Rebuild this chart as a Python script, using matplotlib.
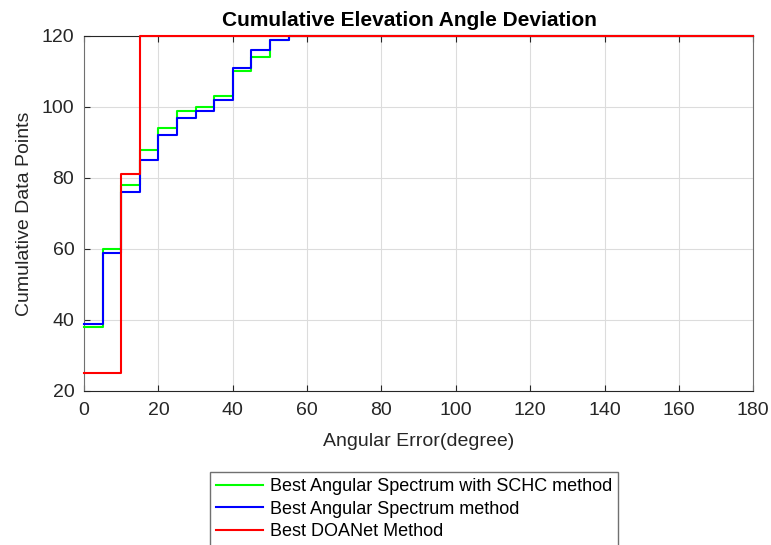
import matplotlib.pyplot as plt

plt.rcParams['font.family'] = ['Liberation Sans', 'DejaVu Sans']

# step edges (degree) and cumulative counts for each method
edges = [0, 5, 10, 15, 20, 25, 30, 35, 40, 45, 50, 55, 180]
schc = [38, 60, 78, 88, 94, 99, 100, 103, 110, 114, 119, 120, 120]
spectrum = [39, 59, 76, 85, 92, 97, 99, 102, 111, 116, 119, 120, 120]
doanet = [25, 25, 81, 120, 120, 120, 120, 120, 120, 120, 120, 120, 120]

labels = ['Best Angular Spectrum with SCHC method',
          'Best Angular Spectrum method',
          'Best DOANet Method']

fig = plt.figure(figsize=(7.71, 5.45), dpi=100)
ax = fig.add_axes([0.109, 0.2826, 0.868, 0.6514])

ax.step(edges, schc, where='post', color=(0, 1, 0), lw=1.5, label=labels[0],
        clip_on=False, zorder=3)
ax.step(edges, spectrum, where='post', color=(0, 0, 1), lw=1.5, label=labels[1],
        clip_on=False, zorder=3)
ax.step(edges, doanet, where='post', color=(1, 0, 0), lw=1.5, label=labels[2],
        clip_on=False, zorder=3)

ax.set_xlim(0, 180)
ax.set_ylim(20, 120)
ax.set_xticks(range(0, 181, 20))
ax.set_yticks(range(20, 121, 20))
ax.grid(True, color='#dcdcdc', lw=0.8)
ax.set_axisbelow(True)
ax.tick_params(direction='in', length=4, labelsize=14, colors='#262626',
               top=True, right=False)
ax.tick_params(axis='x', pad=8)
ax.tick_params(axis='y', pad=7)
for s in ax.spines.values():
    s.set_color('#262626')
    s.set_linewidth(0.8)
ax.spines['left'].set_color('#707070')
ax.spines['right'].set_color('#707070')

ax.set_title('Cumulative Elevation Angle Deviation', fontsize=15,
             fontweight='bold', pad=7, x=0.4865)
ax.set_xlabel('Angular Error(degree)', fontsize=14, color='#262626', labelpad=10)
ax.set_ylabel('Cumulative Data Points', fontsize=14, color='#262626', labelpad=6)

fig.legend(loc='upper left', bbox_to_anchor=(210 / 771, 1 - 472 / 545),
           fontsize=13, fancybox=False, edgecolor='#707070', framealpha=1,
           handlelength=2.6, handletextpad=0.35, labelspacing=0.3,
           borderaxespad=0, borderpad=0.35)

fig.savefig('out.png', dpi=100)
